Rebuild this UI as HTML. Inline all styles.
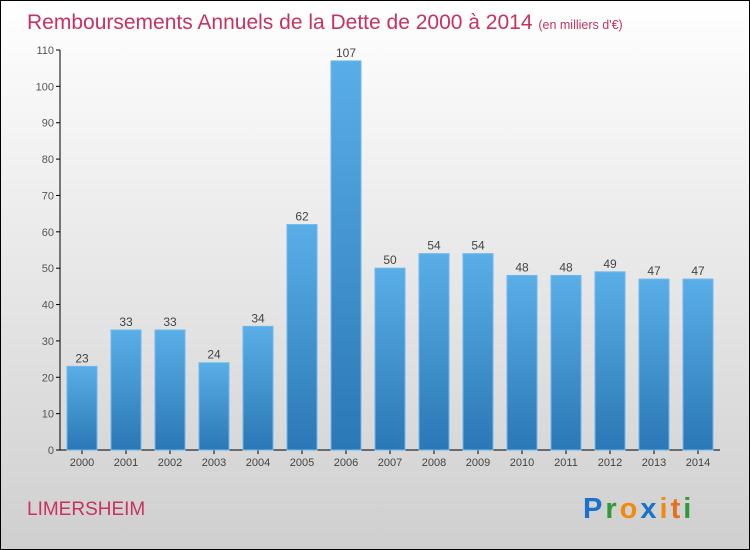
<!DOCTYPE html>
<html><head><meta charset="utf-8"><style>
body{margin:0;width:750px;height:550px;overflow:hidden}
svg{display:block}
text{font-family:"Liberation Sans",sans-serif}
</style></head><body>
<svg id="c" width="750" height="550">
<defs>
<linearGradient id="bg" x1="0" y1="0" x2="0" y2="1"><stop offset="0" stop-color="#ffffff"/><stop offset="1" stop-color="#cfcfcf"/></linearGradient>
<linearGradient id="bar" x1="0" y1="0" x2="0" y2="1"><stop offset="0" stop-color="#5aaee8"/><stop offset="1" stop-color="#2a78b5"/></linearGradient>
</defs>
<rect x="0.5" y="0.5" width="749" height="549" fill="url(#bg)" stroke="#000"/>
<text x="27" y="29" font-size="21" fill="#c8325e">Remboursements Annuels de la Dette de 2000 à 2014 <tspan font-size="12.5">(en milliers d'€)</tspan></text>
<text x="27" y="515" font-size="19" fill="#c8325e">LIMERSHEIM</text>
<g font-size="29" font-weight="bold" font-family="Liberation Sans">
<text x="583" y="518" letter-spacing="3"><tspan fill="#1a73c8">P</tspan><tspan fill="#2e9a3a">r</tspan><tspan fill="#f08a10">o</tspan><tspan fill="#1a73c8">x</tspan><tspan fill="#f08a10">i</tspan><tspan fill="#e8701a">t</tspan><tspan fill="#2e9a3a">i</tspan></text>
</g>
<g id="axes"></g><g id="bars"></g>
</svg>
<script>
const categories=["2000","2001","2002","2003","2004","2005","2006","2007","2008","2009","2010","2011","2012","2013","2014"];
const values=[23,33,33,24,34,62,107,50,54,54,48,48,49,47,47];
const yTicks=[0,10,20,30,40,50,60,70,80,90,100,110];
const NS="http://www.w3.org/2000/svg";
const y=v=>450-v*400/110;
const x=i=>82+i*44;
function mk(t,a,p){const e=document.createElementNS(NS,t);for(const k in a)e.setAttribute(k,a[k]);p.appendChild(e);return e;}
const ax=document.getElementById('axes'),bs=document.getElementById('bars');
const yl=mk('line',{x1:60,y1:50,x2:60,y2:450,stroke:'#000'},ax);


const xl=mk('line',{x1:60,y1:450,x2:720,y2:450,stroke:'#000'},ax);


yTicks.forEach(t=>{
 mk('line',{x1:56,y1:y(t),x2:60,y2:y(t),stroke:'#000'},ax);
 const l=mk('text',{x:54,y:y(t)+4,'font-size':11,fill:'#555','text-anchor':'end'},ax);l.textContent=t;
 
 
});
categories.forEach((c,i)=>{
 const v=values[i];
 const r=mk('rect',{x:x(i)-15,y:y(v),width:30,height:450-y(v),fill:'url(#bar)',stroke:'#6fb8ec','stroke-width':1},bs);
 
 
 const vl=mk('text',{x:x(i),y:y(v)-4,'font-size':12,fill:'#444','text-anchor':'middle'},bs);vl.textContent=v;
 
 
 mk('line',{x1:x(i),y1:450,x2:x(i),y2:454,stroke:'#000'},ax);
 const xl2=mk('text',{x:x(i),y:466,'font-size':11,fill:'#444','text-anchor':'middle'},ax);xl2.textContent=c;
 
 
});
</script>
</body></html>
